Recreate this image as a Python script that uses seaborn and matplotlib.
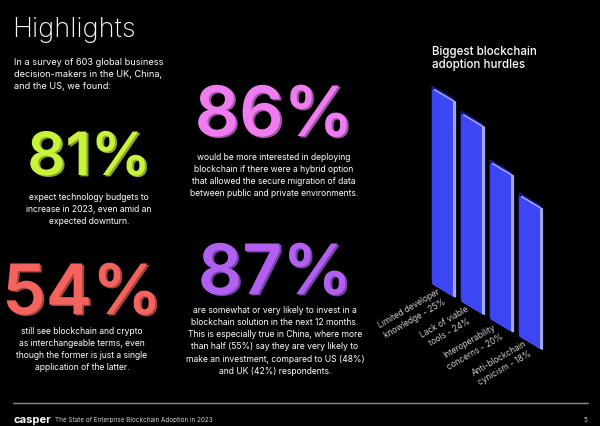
import matplotlib
matplotlib.use("Agg")
import matplotlib.pyplot as plt
import matplotlib.patheffects as pe
from matplotlib.patches import Rectangle
from matplotlib.transforms import Affine2D
import seaborn as sns

# hurdle chart data
hurdle_names = [
    "Limited developer\nknowledge - 25%",
    "Lack of viable\ntools - 24%",
    "Interoperability\nconcerns - 20%",
    "Anti-blockchain\ncynicism - 18%",
]
hurdle_values = [25, 24, 20, 18]

# headline stats
stat_values = ["81%", "86%", "54%", "87%"]
stat_texts = [
    "expect technology budgets to\nincrease in 2023, even amid an\nexpected downturn.",
    "would be more interested in deploying\nblockchain if there were a hybrid option\n"
    "that allowed the secure migration of data\nbetween public and private environments.",
    "still see blockchain and crypto\nas interchangeable terms, even\n"
    "though the former is just a single\napplication of the latter.",
    "are somewhat or very likely to invest in a\nblockchain solution in the next 12 months.\n"
    "This is especially true in China, where more\nthan half (55%) say they are very likely to\n"
    "make an investment, compared to US (48%)\nand UK (42%) respondents.",
]
stat_colors = ["#c8f23c", "#ef7cf0", "#f6625c", "#b160f2"]
shadow_colors = ["#8aa82a", "#a552a8", "#a84440", "#7a3fa8"]
# (center x, baseline y, size) in page pixels
stat_layout = [(89, 176, 43), (274, 137, 50), (82, 315, 50), (275, 295, 50)]
para_top = [193, 153, 327, 306]

sns.set_style("dark", {"axes.facecolor": "black", "figure.facecolor": "black"})
plt.rcParams["font.family"] = ["Inter", "DejaVu Sans"]

fig = plt.figure(figsize=(6, 4.27), dpi=100)
fig.patch.set_facecolor("black")

page = fig.add_axes([0, 0, 1, 1])
page.set_xlim(0, 600)
page.set_ylim(427, 0)
page.axis("off")

page.text(12, 37, "Highlights", color="white", fontsize=19.5, fontweight="light")
page.text(14, 58, "In a survey of 603 global business\ndecision-makers in the UK, China,\nand the US, we found:",
          color="white", fontsize=6.6, va="top", linespacing=1.45)

for val, txt, col, sh, (cx, by, fs), pt in zip(stat_values, stat_texts, stat_colors,
                                               shadow_colors, stat_layout, para_top):
    page.text(cx, by, val, color=col, fontsize=fs, fontweight="semibold", ha="center",
              va="baseline",
              path_effects=[pe.SimplePatchShadow(offset=(1.5, -1), shadow_rgbFace=sh, alpha=1),
                            pe.Normal()])
    page.text(cx, pt, txt, color="white", fontsize=6.2, ha="center", va="top",
              linespacing=1.45, multialignment="center")

# footer
page.plot([13, 588], [404, 404], color="#8c8c8c", lw=1)
page.text(14, 420, "casper", color="white", fontsize=8, fontweight="bold", va="center")
page.text(55, 420, "The State of Enterprise Blockchain Adoption in 2023", color="#d0d0d0",
          fontsize=4.6, va="center")
page.text(585, 420, "5", color="#d0d0d0", fontsize=4.6, va="center", ha="center")

page.text(432, 68, "Biggest blockchain\nadoption hurdles", color="white", fontsize=8.3,
          fontweight="medium", va="baseline", linespacing=1.15)

# isometric bar chart
ax = fig.add_axes([428 / 600, 144.4 / 427, 116 / 600, 234 / 427])
sns.barplot(x=hurdle_names, y=hurdle_values, color="#3c46f2", saturation=1,
            width=0.72, ax=ax, zorder=3)
ax.set_xlim(-0.5, 3.5)
ax.set_ylim(0, 30)
ax.axis("off")

x0, y0 = ax.transData.transform((-0.5, 0))
skew = Affine2D().translate(-x0, -y0).skew_deg(0, -31).translate(x0, y0)
tr = ax.transData + skew

for p in list(ax.patches):
    x, w, h = p.get_x(), p.get_width(), p.get_height()
    top = Rectangle((x, 0), w, h, color="#161a86", zorder=1, clip_on=False,
                    transform=tr + Affine2D().translate(0, 3))
    side = Rectangle((x, 0), w, h, color="#a3a6ff", zorder=2, clip_on=False,
                     transform=tr + Affine2D().translate(2.5, -0.5))
    ax.add_patch(top)
    ax.add_patch(side)
    p.set_transform(tr)
    p.set_clip_on(False)
    p.set_edgecolor("none")

for i, name in enumerate(hurdle_names):
    ax.text(i - 0.2, 0.1, name, transform=tr, rotation=30, rotation_mode="anchor",
            ha="right", va="top", multialignment="center", color="#cfcfcf", fontsize=6,
            linespacing=1.35)

fig.savefig("out.png", dpi=100, facecolor="black")
